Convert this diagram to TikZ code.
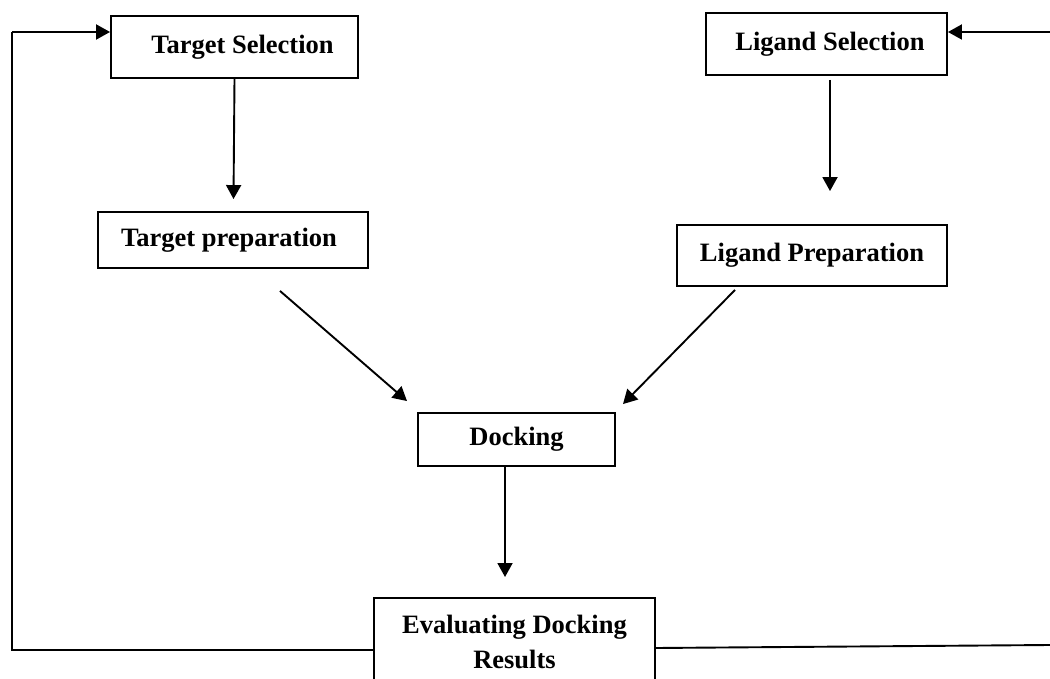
\documentclass[tikz,border=0pt]{standalone}
\usepackage{fontspec}
\setmainfont{Liberation Serif}
\usetikzlibrary{arrows.meta}
\tikzset{
  boxnode/.style={draw, line width=1.9pt, inner sep=0pt, align=center,
    font=\bfseries\fontsize{26.5}{35}\selectfont},
  arr/.style={line width=1.9pt, -{Triangle[length=14pt,width=15pt]}},
  fb/.style={line width=1.9pt}
}
\begin{document}
\begin{tikzpicture}[x=1pt,y=-1pt]
\useasboundingbox (0,0) rectangle (1050,679);
\clip (0,0) rectangle (1050,679);
\node[boxnode, minimum width=247pt, minimum height=62pt] (ts) at (234.5,47) {\hspace*{16pt}Target Selection};
\node[boxnode, minimum width=241pt, minimum height=62pt] (ls) at (826.5,44) {\hspace*{7pt}Ligand Selection};
\node[boxnode, minimum width=270pt, minimum height=56pt] (tp) at (233,240) {Target preparation\hspace*{8pt}};
\node[boxnode, minimum width=270pt, minimum height=61pt] (lp) at (812,255.5) {Ligand Preparation};
\node[boxnode, minimum width=197pt, minimum height=53pt] (dk) at (516.5,439.5) {Docking};
\node[boxnode, anchor=north, minimum width=281pt, inner ysep=17pt] (ev) at (514.5,597) {Evaluating Docking\\Results};
% flow arrows
\draw[arr] (ts.south) -- ([yshift=12pt,xshift=-1pt]ts.south |- tp.north);
\draw[arr] ([xshift=3.5pt,yshift=-4pt]ls.south) -- ([xshift=18pt,yshift=33pt]lp.north);
\draw[arr] ([xshift=47pt,yshift=-22pt]tp.south) -- ([xshift=-109.5pt,yshift=11pt]dk.north);
\draw[arr] ([xshift=-77pt,yshift=-3pt]lp.south) -- ([xshift=106.5pt,yshift=8pt]dk.north);
\draw[arr] ([xshift=-11.5pt]dk.south) -- ([xshift=-9.5pt,yshift=20pt]ev.north);
% feedback loops
\coordinate (bl) at (12,650);
\coordinate (tl) at (12,32);
\coordinate (brs) at (655,648);
\coordinate (br) at (1050,645);
\coordinate (tr) at (1050,32);
\draw[fb] (ev.west |- bl) -- (bl) -- (tl);
\draw[arr] (tl) -- (ts.west |- tl);
\draw[fb] (ev.east |- brs) -- (br);
\draw[arr] (tr) -- (ls.east |- tr);
\end{tikzpicture}
\end{document}
